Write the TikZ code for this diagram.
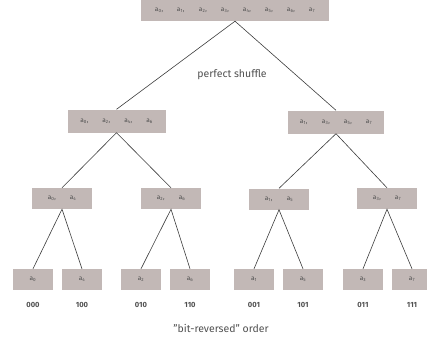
\documentclass[tikz,border=0pt]{standalone}
\usepackage{fontspec}
\setmainfont{Fira Sans}
\usetikzlibrary{positioning}

\definecolor{boxgray}{RGB}{194,184,182}
\definecolor{txtgray}{RGB}{80,80,80}
\definecolor{linegray}{RGB}{60,60,60}

\tikzset{
  arr/.style={fill=boxgray, inner sep=0pt, text=txtgray, font=\fontsize{6.5}{7}\selectfont},
  leaf/.style={arr, minimum width=40pt, minimum height=21pt},
  pair/.style={arr, minimum width=60pt, minimum height=21pt},
  bits/.style={text=txtgray, font=\bfseries\fontsize{7.5}{8}\selectfont},
  caption/.style={text=txtgray, font=\fontsize{10.5}{12}\selectfont},
  split/.style={draw=linegray, line width=0.6pt}
}
\newcommand{\ai}[1]{\makebox[22pt][l]{a\textsubscript{#1},}}
\newcommand{\al}[1]{a\textsubscript{#1}}

\begin{document}
\begin{tikzpicture}[x=1pt,y=-1pt]
\useasboundingbox (0,0) rectangle (427,341);

%draw whole array
\node[arr, minimum width=188pt, minimum height=21pt] (all) at (235,10.5)
  {\ai{0}\ai{1}\ai{2}\ai{3}\ai{4}\ai{5}\ai{6}\al{7}};

%draw even and odd halves
\node[arr, minimum width=98pt, minimum height=23pt] (even) at (116.5,121)
  {\ai{0}\ai{2}\ai{4}\al{6}};
\node[arr, minimum width=96pt, minimum height=23pt] (odd) at (336,122)
  {\ai{1}\ai{3}\ai{5}\al{7}};

%draw pairs
\node[pair] (p04) at (62,198.5) {\ai{0}\al{4}};
\node[pair] (p26) at (171,198.5) {\ai{2}\al{6}};
\node[pair] (p15) at (279,199) {\ai{1}\al{5}};
\node[pair] (p37) at (387,198.5) {\ai{3}\al{7}};

%draw leaves and their indices
\foreach \i/\x/\b in {0/33/000, 4/82/100, 2/141/010, 6/190/110,
                      1/254/001, 5/303/101, 3/363/011, 7/412/111}{
   \node[leaf] (a\i) at (\x,279.5) {\al{\i}};
   \node[bits] (b\i) at (\x,305) {\b};
}

%draw splits
\draw[split] (even.north) -- (all.south) -- (odd.north);
\draw[split] (p04.north) -- (even.south) -- (p26.north);
\draw[split] (p15.north) -- (odd.south) -- (p37.north);
\draw[split] (a0.north) -- (p04.south) -- (a4.north);
\draw[split] (a2.north) -- (p26.south) -- (a6.north);
\draw[split] (a1.north) -- (p15.south) -- (a5.north);
\draw[split] (a3.north) -- (p37.south) -- (a7.north);

%draw captions
\node[caption] (shuffle) at (232,75) {perfect shuffle};
\node[caption] (order) at (221,328) {"bit-reversed" order};
\end{tikzpicture}
\end{document}
